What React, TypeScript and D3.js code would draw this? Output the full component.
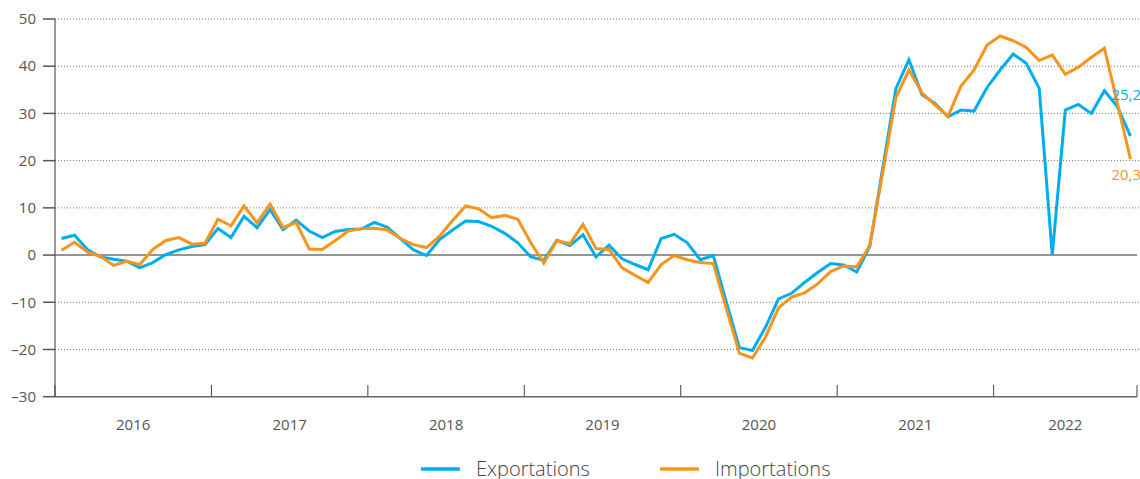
import * as d3 from "d3";

// monthly values, Jan 2016 -> Nov 2022
const years = [2016, 2017, 2018, 2019, 2020, 2021, 2022];
const yTicks = [50, 40, 30, 20, 10, 0, -10, -20, -30];

const exportations = [
  3.5, 4.2, 1.1, -0.4, -0.9, -1.3, -2.7, -1.6, 0.1, 1.1, 1.8, 2.2,
  5.6, 3.7, 8.2, 5.8, 9.6, 5.4, 7.4, 5.1, 3.7, 5.0, 5.4, 5.5,
  6.9, 5.9, 3.5, 1.1, -0.1, 3.3, 5.3, 7.2, 7.1, 6.1, 4.6, 2.6,
  -0.4, -1.1, 3.1, 2.0, 4.3, -0.4, 2.1, -0.8, -2.0, -3.1, 3.5, 4.4,
  2.6, -1.0, -0.1, -10.0, -19.6, -20.2, -15.3, -9.3, -8.1, -5.8, -3.7, -1.8,
  -2.1, -3.6, 1.8, 18.5, 35.2, 41.4, 34.0, 32.1, 29.3, 30.7, 30.5, 35.5,
  39.2, 42.6, 40.6, 35.3, 0, 30.7, 31.9, 30.0, 34.8, 31.4, 25.2,
];

const importations = [
  1.0, 2.7, 0.6, -0.3, -2.2, -1.3, -2.0, 1.2, 3.1, 3.7, 2.3, 2.5,
  7.6, 6.2, 10.4, 6.8, 10.8, 5.8, 6.9, 1.3, 1.2, 3.1, 5.1, 5.6,
  5.7, 5.3, 3.5, 2.2, 1.6, 4.0, 7.3, 10.4, 9.8, 7.9, 8.4, 7.6,
  2.6, -1.7, 3.1, 2.4, 6.5, 1.4, 1.2, -2.7, -4.3, -5.8, -2.0, -0.1,
  -1.0, -1.6, -1.8, -11.4, -20.8, -21.8, -17.4, -11.2, -8.9, -8.0, -6.1, -3.5,
  -2.3, -2.5, 2.0, 17.5, 33.3, 39.2, 34.4, 31.8, 29.4, 35.8, 39.2, 44.5,
  46.4, 45.4, 44.0, 41.2, 42.4, 38.3, 39.8, 41.9, 43.8, 32.1, 20.3,
];

const seriesNames = ["Exportations", "Importations"];
const colors = ["#00aeef", "#f7941d"];

const width = 1140;
const height = 479;
const left = 55;
const right = 1137;
const top = 19;
const bottom = 396.7;
const nMonths = exportations.length;
const font = "'Open Sans', 'DejaVu Sans', sans-serif";
const fmt = (v: number) => String(v).replace(".", ",");

const App = () => {
  const x = d3.scaleLinear().domain([0, nMonths]).range([left, right]);
  const y = d3.scaleLinear().domain([-30, 50]).range([bottom, top]);

  const line = d3
    .line<number>()
    .x((_, i) => x(i + 0.5))
    .y((d) => y(d));

  // year boundaries (plus the end of the axis)
  const yearTicks = years.map((_, i) => i * 12).concat([nMonths]);
  const series = [exportations, importations];
  const last = nMonths - 1;

  return (
    <svg
      width={width}
      height={height}
      style={{ position: "absolute", left: 0, top: 0, fontFamily: font }}
    >
      {/* grid */}
      {yTicks
        .filter((t) => t !== 0 && t !== -30)
        .map((t) => (
          <line
            key={t}
            x1={left}
            x2={width}
            y1={y(t)}
            y2={y(t)}
            stroke="#777"
            strokeWidth={1}
            strokeDasharray="1 2"
          />
        ))}
      <line x1={left} x2={right} y1={y(0)} y2={y(0)} stroke="#707070" strokeWidth={1.5} />

      {/* y axis */}
      <line x1={left} x2={left} y1={top} y2={bottom} stroke="#555" strokeWidth={1.2} />
      {yTicks.map((t) => (
        <g key={t}>
          <line x1={43} x2={left} y1={y(t)} y2={y(t)} stroke="#555" strokeWidth={1.5} />
          <text
            x={36}
            y={y(t)}
            dy="0.35em"
            textAnchor="end"
            fontSize={15}
            fill="#555"
          >
            {t < 0 ? `–${Math.abs(t)}` : t}
          </text>
        </g>
      ))}

      {/* x axis */}
      <line x1={left} x2={right} y1={bottom} y2={bottom} stroke="#666" strokeWidth={1.5} />
      {yearTicks.map((m) => (
        <line key={m} x1={x(m)} x2={x(m)} y1={385} y2={bottom} stroke="#444" strokeWidth={1} />
      ))}
      {years.map((yr, i) => (
        <text
          key={yr}
          x={(x(i * 12) + x(Math.min((i + 1) * 12, nMonths))) / 2}
          y={429.5}
          textAnchor="middle"
          fontSize={15}
          fill="#555"
        >
          {yr}
        </text>
      ))}

      {/* lines */}
      {series.map((s, k) => (
        <path
          key={k}
          d={line(s) ?? ""}
          fill="none"
          stroke={colors[k]}
          strokeWidth={3}
          strokeLinejoin="miter"
        />
      ))}

      {/* end labels */}
      <text x={1141} y={y(exportations[last]) - 36} textAnchor="end" fontSize={15} fill={colors[0]}>
        {fmt(exportations[last])}
      </text>
      <text x={1141} y={y(importations[last]) + 21} textAnchor="end" fontSize={15} fill={colors[1]}>
        {fmt(importations[last])}
      </text>

      {/* legend */}
      {seriesNames.map((name, k) => {
        const lx = k === 0 ? 421 : 660;
        return (
          <g key={name}>
            <line x1={lx} x2={lx + 39} y1={469} y2={469} stroke={colors[k]} strokeWidth={3.5} />
            <text x={lx + 55} y={476} fontSize={20} fontWeight={300} fill="#444">
              {name}
            </text>
          </g>
        );
      })}
    </svg>
  );
};

export default App;
